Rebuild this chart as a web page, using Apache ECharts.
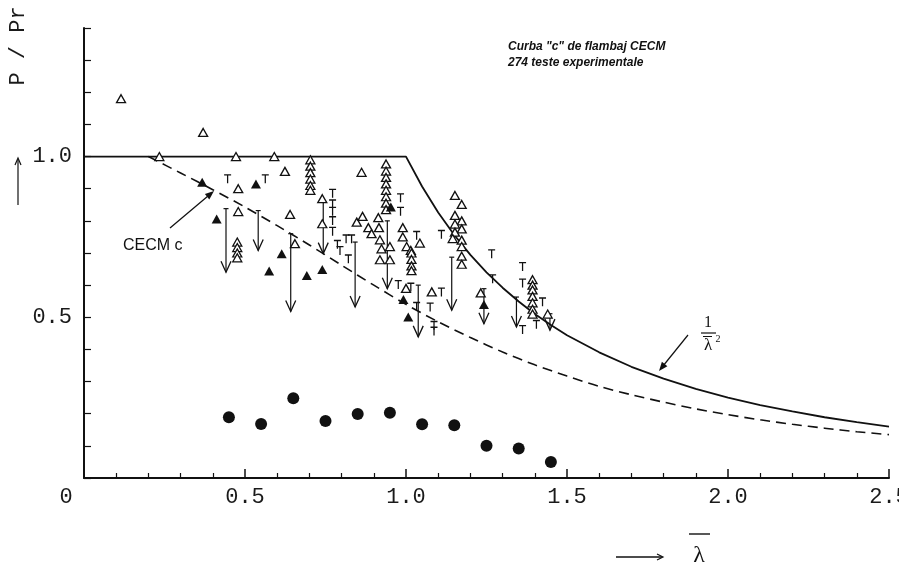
<!DOCTYPE html>
<html lang="ro">
<head>
    <meta charset="UTF-8">
    <title>Curba c de flambaj CECM</title>
    <script src="https://cdn.jsdelivr.net/npm/echarts@6/dist/echarts.min.js"></script>
    <style>
        html, body { margin: 0; padding: 0; background: #fff; }
        #main { width: 899px; height: 563px; }
    </style>
</head>
<body>
    <div id="main"></div>
    <script>
        // curba Euler 1/lambda^2 (linia plina)
        const solidX = [0, 1.0, 1.05, 1.1, 1.15, 1.2, 1.25, 1.3, 1.35, 1.4, 1.45, 1.5, 1.6, 1.7, 1.8, 1.9, 2.0, 2.1, 2.2, 2.3, 2.4, 2.5]
        const solidY = [1, 1, 0.907, 0.826, 0.756, 0.694, 0.64, 0.592, 0.549, 0.51, 0.476, 0.444, 0.391, 0.346, 0.309, 0.277, 0.25, 0.227, 0.207, 0.189, 0.174, 0.16]
        // curba CECM c (linia intrerupta)
        const dashX = [0.2, 0.3, 0.4, 0.5, 0.6, 0.7, 0.8, 0.9, 1.0, 1.1, 1.2, 1.3, 1.4, 1.5, 1.6, 1.7, 1.8, 1.9, 2.0, 2.1, 2.2, 2.3, 2.4, 2.5]
        const dashY = [1.0, 0.949, 0.897, 0.843, 0.785, 0.725, 0.662, 0.6, 0.54, 0.486, 0.437, 0.392, 0.352, 0.317, 0.285, 0.259, 0.236, 0.215, 0.197, 0.181, 0.167, 0.155, 0.144, 0.135]

        // teste: triunghiuri goale
        const openTriangles = [
            [0.115, 1.18], [0.37, 1.075], [0.234, 1.0], [0.472, 1.0], [0.591, 1.0], [0.624, 0.954],
            [0.703, 0.99], [0.703, 0.97], [0.703, 0.95], [0.703, 0.93], [0.703, 0.91], [0.703, 0.895],
            [0.479, 0.90], [0.479, 0.829], [0.476, 0.734], [0.476, 0.717], [0.476, 0.70], [0.476, 0.685],
            [0.64, 0.82], [0.655, 0.729], [0.74, 0.869], [0.74, 0.791], [0.862, 0.951],
            [0.847, 0.796], [0.865, 0.814], [0.883, 0.779], [0.893, 0.76], [0.914, 0.81], [0.916, 0.779],
            [0.919, 0.741], [0.924, 0.713], [0.919, 0.679], [0.95, 0.72], [0.95, 0.679],
            [0.938, 0.977], [0.938, 0.955], [0.938, 0.935], [0.938, 0.915], [0.938, 0.895], [0.938, 0.875], [0.938, 0.855], [0.938, 0.835],
            [0.99, 0.779], [0.99, 0.75], [1.002, 0.72], [1.015, 0.708], [1.043, 0.731], [1.0, 0.59], [1.08, 0.579],
            [1.017, 0.70], [1.017, 0.68], [1.017, 0.66], [1.017, 0.645],
            [1.152, 0.879], [1.173, 0.851], [1.152, 0.817], [1.173, 0.80], [1.152, 0.79], [1.173, 0.775], [1.152, 0.765],
            [1.145, 0.745], [1.173, 0.74], [1.173, 0.72], [1.173, 0.69], [1.173, 0.665],
            [1.232, 0.576],
            [1.393, 0.617], [1.393, 0.60], [1.393, 0.585], [1.393, 0.565], [1.393, 0.545], [1.393, 0.525], [1.393, 0.51],
            [1.44, 0.51]
        ]
        // triunghiuri pline
        const filledTriangles = [
            [0.367, 0.92], [0.412, 0.806], [0.534, 0.915], [0.614, 0.698], [0.575, 0.644], [0.692, 0.63],
            [0.74, 0.649], [0.953, 0.843], [0.992, 0.555], [1.007, 0.501], [1.242, 0.54]
        ]
        // marcaje "T"
        const tMarks = [
            [0.446, 0.931], [0.563, 0.931], [0.772, 0.886], [0.772, 0.853], [0.772, 0.83], [0.772, 0.801], [0.772, 0.768],
            [0.787, 0.727], [0.795, 0.708], [0.814, 0.744], [0.831, 0.744], [0.821, 0.682],
            [0.983, 0.872], [0.983, 0.83], [1.033, 0.755], [0.976, 0.602], [1.015, 0.594], [1.11, 0.579],
            [1.033, 0.534], [1.075, 0.532], [1.087, 0.475], [1.087, 0.457], [1.11, 0.758],
            [1.266, 0.698], [1.269, 0.62], [1.362, 0.462], [1.362, 0.658], [1.362, 0.607], [1.424, 0.548], [1.405, 0.478]
        ]
        // sageti: [lambda, sus, jos]
        const arrows = [
            [0.441, 0.838, 0.64], [0.541, 0.832, 0.708], [0.642, 0.76, 0.518], [0.743, 0.863, 0.698],
            [0.842, 0.734, 0.532], [0.942, 0.80, 0.589], [1.038, 0.60, 0.439], [1.142, 0.687, 0.522],
            [1.242, 0.589, 0.48], [1.343, 0.563, 0.47], [1.447, 0.511, 0.46]
        ]
        // cercuri pline
        const circleX = [0.45, 0.55, 0.65, 0.75, 0.85, 0.95, 1.05, 1.15, 1.25, 1.35, 1.45]
        const circleY = [0.189, 0.168, 0.248, 0.177, 0.199, 0.203, 0.167, 0.164, 0.10, 0.092, 0.05]

        const ink = '#111'
        const labelText = { fontFamily: 'Liberation Mono', fontSize: 22, color: '#1a1a1a' }

        function init () {
            const myChart = echarts.init(document.getElementById('main'))

            const renderArrow = (params, api) => {
                const top = api.coord([api.value(0), api.value(1)])
                const bot = api.coord([api.value(0), api.value(2)])
                return {
                    type: 'group',
                    children: [
                        { type: 'line', shape: { x1: top[0], y1: top[1], x2: bot[0], y2: bot[1] }, style: { stroke: ink, lineWidth: 1.2 } },
                        { type: 'line', shape: { x1: top[0] - 2.5, y1: top[1], x2: top[0] + 2.5, y2: top[1] }, style: { stroke: ink, lineWidth: 1.2 } },
                        { type: 'polyline', shape: { points: [[bot[0] - 5, bot[1] - 11], [bot[0], bot[1]], [bot[0] + 5, bot[1] - 11]] }, style: { stroke: ink, fill: null, lineWidth: 1.3 } }
                    ]
                }
            }

            const option = {
                animation: false,
                backgroundColor: '#fff',
                grid: { left: 84, right: 10, top: 28, bottom: 85, containLabel: false, outerBoundsMode: 'none' },
                xAxis: {
                    type: 'value',
                    min: 0,
                    max: 2.5,
                    interval: 0.5,
                    axisLine: { lineStyle: { color: ink, width: 2 } },
                    axisTick: { inside: true, length: 9, lineStyle: { color: ink, width: 1.5 } },
                    minorTick: { show: true, splitNumber: 5, length: 5, lineStyle: { color: ink, width: 1.2 } },
                    splitLine: { show: false },
                    axisLabel: {
                        margin: 8,
                        hideOverlap: false,
                        formatter: v => v === 0 ? '{z|0}' : '{n|' + v.toFixed(1) + '}',
                        rich: {
                            z: Object.assign({ padding: [0, 36, 0, 0] }, labelText),
                            n: labelText
                        }
                    }
                },
                yAxis: {
                    type: 'value',
                    min: 0,
                    max: 1.4,
                    interval: 0.1,
                    axisLine: { lineStyle: { color: ink, width: 2 } },
                    axisTick: { inside: true, length: 7, lineStyle: { color: ink, width: 1.2 } },
                    splitLine: { show: false },
                    axisLabel: Object.assign({
                        margin: 12,
                        formatter: v => Math.abs(v - 0.5) < 1e-6 ? '0.5' : (Math.abs(v - 1) < 1e-6 ? '1.0' : '')
                    }, labelText)
                },
                series: [
                    {
                        type: 'line',
                        data: solidX.map((x, i) => [x, solidY[i]]),
                        showSymbol: false,
                        lineStyle: { color: ink, width: 1.8 },
                        z: 1
                    },
                    {
                        type: 'line',
                        data: dashX.map((x, i) => [x, dashY[i]]),
                        showSymbol: false,
                        smooth: 0.3,
                        lineStyle: { color: ink, width: 1.6, type: [10, 6] },
                        z: 1
                    },
                    {
                        type: 'custom',
                        renderItem: renderArrow,
                        data: arrows,
                        encode: { x: 0, y: [1, 2] },
                        z: 2
                    },
                    {
                        type: 'scatter',
                        data: openTriangles,
                        symbol: 'triangle',
                        symbolSize: [9, 8],
                        itemStyle: { color: '#fff', borderColor: ink, borderWidth: 1.3, opacity: 1 },
                        z: 3
                    },
                    {
                        type: 'scatter',
                        data: filledTriangles,
                        symbol: 'triangle',
                        symbolSize: [10, 9],
                        itemStyle: { color: ink, opacity: 1 },
                        z: 4
                    },
                    {
                        type: 'scatter',
                        data: tMarks,
                        symbol: 'path://M0,0 H10 V1.8 H5.9 V12 H4.1 V1.8 H0 Z',
                        symbolSize: [7, 9],
                        itemStyle: { color: ink, opacity: 1 },
                        z: 4
                    },
                    {
                        type: 'scatter',
                        data: circleX.map((x, i) => [x, circleY[i]]),
                        symbol: 'circle',
                        symbolSize: 12,
                        itemStyle: { color: ink, opacity: 1 },
                        z: 4
                    }
                ],
                graphic: [
                    { type: 'text', x: 508, y: 47, style: { text: 'Curba "c" de flambaj CECM', font: 'italic bold 12px "Liberation Sans"', fill: ink, verticalAlign: 'middle' } },
                    { type: 'text', x: 508, y: 63, style: { text: '274 teste experimentale', font: 'italic bold 12px "Liberation Sans"', fill: ink, verticalAlign: 'middle' } },
                    { type: 'text', x: 123, y: 246, style: { text: 'CECM c', font: '16px "Liberation Sans"', fill: ink, verticalAlign: 'middle' } },
                    { type: 'line', shape: { x1: 170, y1: 228, x2: 208, y2: 196 }, style: { stroke: ink, lineWidth: 1.3 } },
                    { type: 'polygon', shape: { points: [[214, 191], [209.3, 199.5], [204.9, 194.1]] }, style: { fill: ink } },
                    { type: 'line', shape: { x1: 688, y1: 335, x2: 663, y2: 366 }, style: { stroke: ink, lineWidth: 1.2 } },
                    { type: 'polygon', shape: { points: [[659, 371], [667.4, 366.2], [661.9, 361.8]] }, style: { fill: ink } },
                    { type: 'text', x: 708, y: 323, style: { text: '1', font: '16px "Liberation Serif"', fill: ink, align: 'center', verticalAlign: 'middle' } },
                    { type: 'line', shape: { x1: 701, y1: 333, x2: 716, y2: 333 }, style: { stroke: ink, lineWidth: 1.2 } },
                    { type: 'line', shape: { x1: 703, y1: 336.5, x2: 712, y2: 336.5 }, style: { stroke: ink, lineWidth: 1 } },
                    { type: 'text', x: 708, y: 346, style: { text: 'λ', font: '17px "Liberation Serif"', fill: ink, align: 'center', verticalAlign: 'middle' } },
                    { type: 'text', x: 718, y: 339, style: { text: '2', font: '10px "Liberation Serif"', fill: ink, align: 'center', verticalAlign: 'middle' } },
                    { type: 'text', x: 18, y: 46, rotation: Math.PI / 2, style: { text: 'P / Pr', font: '22px "Liberation Mono"', fill: '#1a1a1a', align: 'center', verticalAlign: 'middle' } },
                    { type: 'line', shape: { x1: 18, y1: 205, x2: 18, y2: 160 }, style: { stroke: ink, lineWidth: 1.2 } },
                    { type: 'polyline', shape: { points: [[15, 165], [18, 158], [21, 165]] }, style: { stroke: ink, fill: null, lineWidth: 1.2 } },
                    { type: 'line', shape: { x1: 616, y1: 557, x2: 662, y2: 557 }, style: { stroke: ink, lineWidth: 1.4 } },
                    { type: 'polyline', shape: { points: [[657, 554], [663, 557], [657, 560]] }, style: { stroke: ink, fill: null, lineWidth: 1.2 } },
                    { type: 'line', shape: { x1: 689, y1: 534, x2: 710, y2: 534 }, style: { stroke: ink, lineWidth: 1.4 } },
                    { type: 'text', x: 699, y: 556, style: { text: 'λ', font: '24px "Liberation Serif"', fill: ink, align: 'center', verticalAlign: 'middle' } }
                ]
            }

            myChart.setOption(option)
        }

        init()
    </script>
</body>
</html>
